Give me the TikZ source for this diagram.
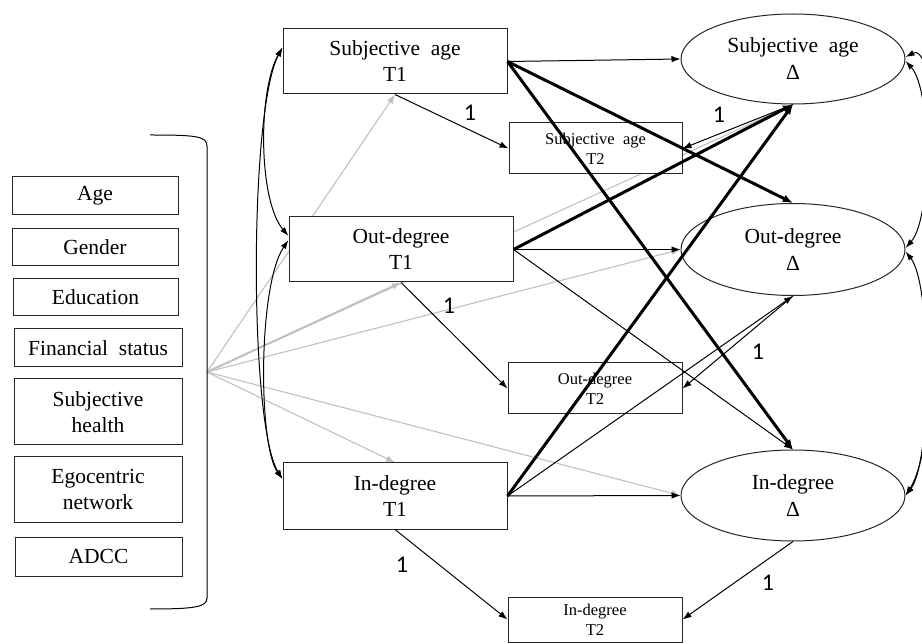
\documentclass[tikz,border=0pt]{standalone}
\usepackage{fontspec}
\setmainfont{Liberation Serif}
\newfontfamily\onefont{Carlito}
\usetikzlibrary{arrows.meta,shapes.geometric,backgrounds}
\definecolor{greyline}{RGB}{192,192,192}
\begin{document}
\begin{tikzpicture}[x=1pt,y=-1pt,
 box/.style={draw=black!85, line width=1pt, fill=white, inner sep=0pt, align=center, font=\fontsize{21.5}{26}\selectfont},
 smallbox/.style={box, font=\fontsize{16.5}{20}\selectfont},
 cov/.style={box, font=\fontsize{21.5}{26}\selectfont},
 lat/.style={ellipse, draw=black!85, line width=1pt, fill=white, inner sep=0pt, minimum width=224, minimum height=90, align=center, font=\fontsize{21.5}{27}\selectfont},
 lnthin/.style={line width=1pt, -{Latex[length=9pt,width=6.5pt]}},
 lnthick/.style={line width=3pt, -{Latex[length=10pt,width=8pt]}},
 greyln/.style={draw=greyline, line width=1.1pt},
 greyarrow/.style={greyln, -{Latex[length=9pt,width=7pt]}},
 covar/.style={line width=1pt, {Latex[length=9pt,width=6pt]}-{Latex[length=9pt,width=6pt]}},
 one/.style={font=\onefont\fontsize{24}{24}\selectfont, inner sep=0pt},
]
\useasboundingbox (0,0) rectangle (922,644);
\clip (0,0) rectangle (922,644);

% observed T1 variables
\node[box, minimum width=224, minimum height=65] (sat1) at (395,61.5) {Subjective~~age\\T1};
\node[box, minimum width=224, minimum height=65] (odt1) at (401,249.5) {Out-degree\\T1};
\node[box, minimum width=224, minimum height=66] (idt1) at (395,496) {In-degree\\T1};
% T2 variables
\node[smallbox, minimum width=173, minimum height=51] (sat2) at (595.5,148.5) {Subjective~~age\\T2};
\node[smallbox, minimum width=174, minimum height=51] (odt2) at (595,388.5) {Out-degree\\T2};
\node[smallbox, minimum width=174, minimum height=45] (idt2) at (595,619.5) {In-degree\\T2};
% latent change
\node[lat] (sad) at (793,59) {Subjective~~age\\Δ};
\node[lat, minimum height=92] (odd) at (793,249.5) {Out-degree\\Δ};
\node[lat, minimum height=91] (idd) at (793,495.5) {In-degree\\Δ};
% covariates
\node[cov, minimum width=166, minimum height=38] (age) at (95,196) {Age};
\node[cov, minimum width=166, minimum height=37] (gender) at (95,247.5) {Gender};
\node[cov, minimum width=165, minimum height=37] (edu) at (95.5,297.5) {Education};
\node[cov, minimum width=168, minimum height=38] (fin) at (98,348) {Financial~~status};
\node[cov, minimum width=168, minimum height=66] (health) at (98,412) {Subjective\\health};
\node[cov, minimum width=168, minimum height=65] (ego) at (98,489.5) {Egocentric\\network};
\node[cov, minimum width=167, minimum height=39] (adcc) at (98.5,556.5) {ADCC};

% bracket
\draw[line width=1pt] (150,135) .. controls (195,135) and (207,136) .. (207,146) -- (207,598) .. controls (207,607) and (195,609) .. (150,609);
\coordinate (fan) at (207,372);

% grey covariate paths
\begin{scope}[on background layer]
\draw[greyarrow] (fan) -- (sat1.south);
\draw[greyarrow, line width=2pt] (fan) -- (odt1.south);
\draw[greyarrow] (fan) -- (idt1.north);
\draw[greyln] (fan) -- (sad.south);
\draw[greyarrow] (fan) -- (odd.west);
\draw[greyarrow] (fan) -- (idd.west);
\end{scope}

% cross-lagged paths
\draw[lnthin] (sat1.east) -- (sad.west);
\draw[lnthick] (sat1.east) -- (odd.north);
\draw[lnthick] (sat1.east) -- (idd.north);
\draw[lnthick] (odt1.east) -- (sad.south);
\draw[lnthin] (odt1.east) -- (odd.west);
\draw[lnthin] (odt1.east) -- (idd.north);
\draw[lnthick] (idt1.east) -- (sad.south);
\draw[lnthin] (idt1.east) -- (odd.south);
\draw[lnthin] (idt1.east) -- (idd.west);

% fixed loadings
\draw[lnthin] (sat1.south) -- (sat2.west);
\draw[lnthin] (odt1.south) -- (odt2.west);
\draw[lnthin] (idt1.south) -- (idt2.west);
\draw[lnthin] (sad.south) -- (sat2.east);
\draw[lnthin] (odd.south) -- (odt2.east);
\draw[lnthin] (idd.south) -- (idt2.east);
\node[one] (l1) at (470,113) {1};
\node[one] (l2) at (449,306) {1};
\node[one] (l3) at (402,565) {1};
\node[one] (l4) at (719,115) {1};
\node[one] (l5) at (758,352) {1};
\node[one] (l6) at (768,583) {1};

% covariances left
\draw[covar] ([yshift=14pt]sat1.west) .. controls (258,90) and (258,200) .. ([yshift=13.5pt]odt1.west);
\draw[covar] ([yshift=9.5pt]odt1.west) .. controls (258,285) and (258,445) .. ([yshift=17pt]idt1.west);
\draw[covar] ([yshift=14pt]sat1.west) .. controls (249,110) and (249,425) .. ([yshift=17pt]idt1.west);

% covariances right
\draw[covar] ([yshift=-2pt]sad.east) .. controls (932,90) and (932,218) .. ([yshift=1.5pt]odd.east);
\draw[covar] ([yshift=-2pt]odd.east) .. controls (932,285) and (932,462) .. (idd.east);
\draw[covar] ([yshift=2pt]sad.east) .. controls (948,35) and (948,430) .. (idd.east);
\end{tikzpicture}
\end{document}
